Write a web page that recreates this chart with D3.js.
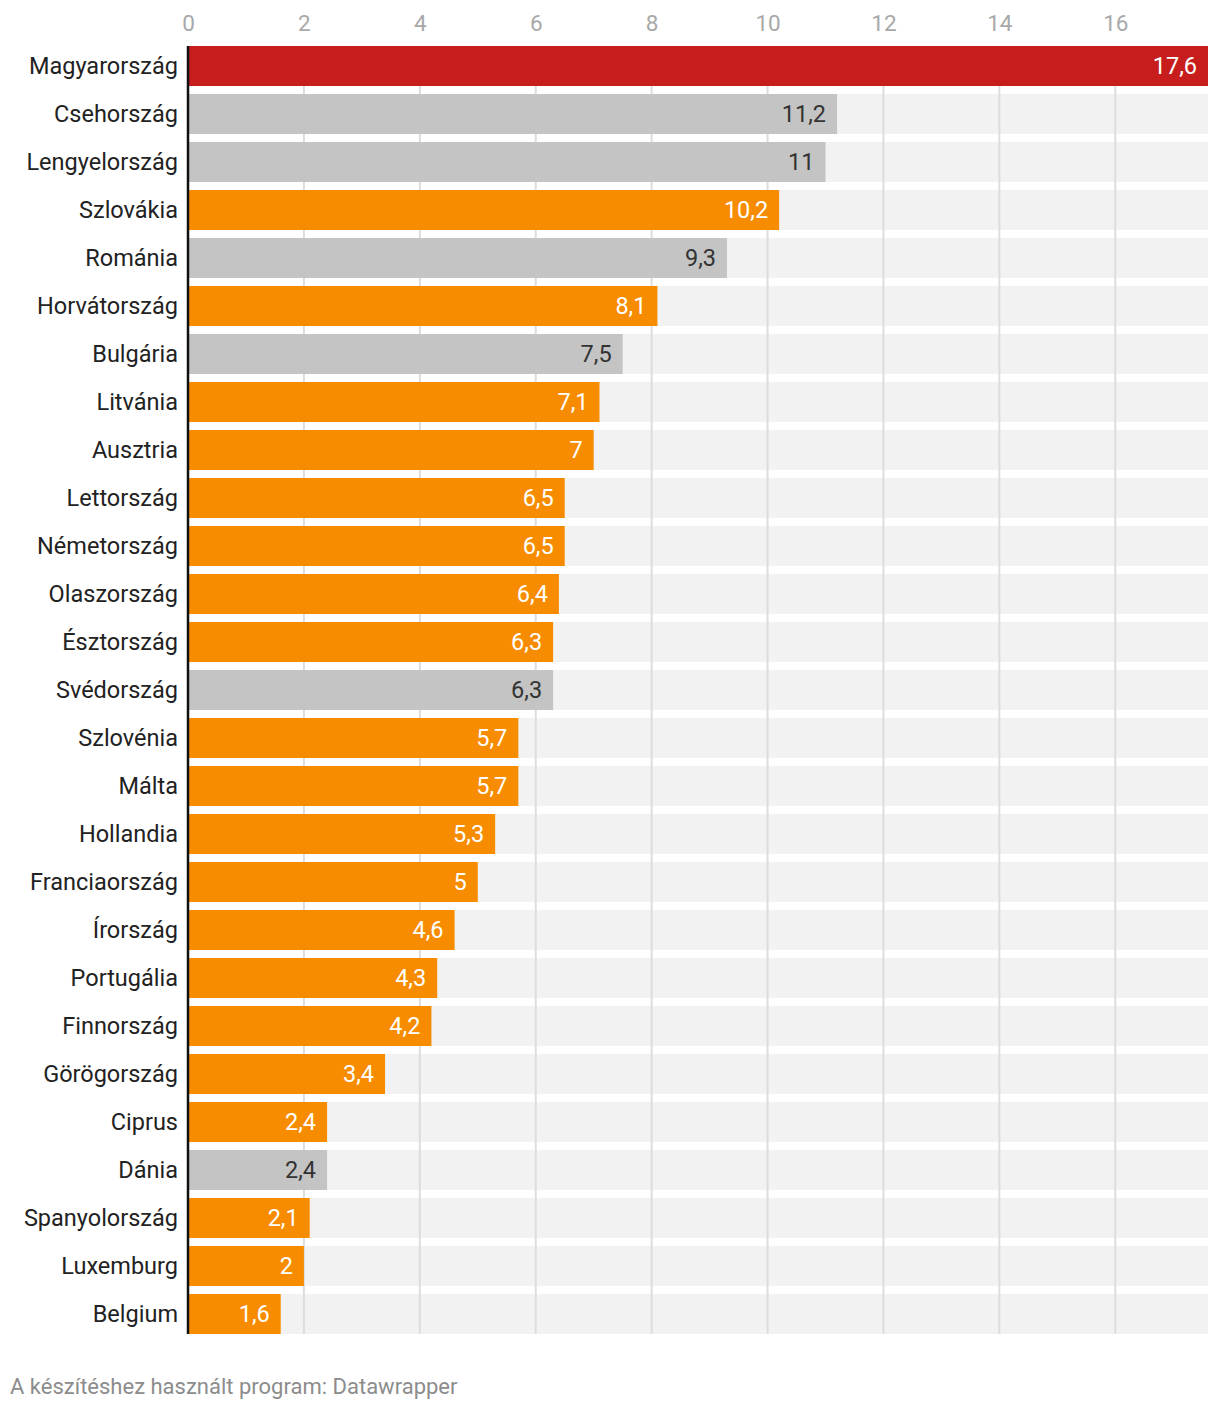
<!DOCTYPE html>
<html>
<head>
<meta charset="utf-8">
<script src="https://cdn.jsdelivr.net/npm/d3@7"></script>
<style>
  body { margin: 0; background: #fff; font-family: Roboto, "Noto Sans", sans-serif; }
  svg text { font-family: Roboto, "Noto Sans", sans-serif; }
</style>
</head>
<body>
<div id="chart"></div>
<script>
// data
const countries = ["Magyarország", "Csehország", "Lengyelország", "Szlovákia", "Románia",
    "Horvátország", "Bulgária", "Litvánia", "Ausztria", "Lettország", "Németország",
    "Olaszország", "Észtország", "Svédország", "Szlovénia", "Málta", "Hollandia",
    "Franciaország", "Írország", "Portugália", "Finnország", "Görögország", "Ciprus",
    "Dánia", "Spanyolország", "Luxemburg", "Belgium"];
const values = [17.6, 11.2, 11, 10.2, 9.3, 8.1, 7.5, 7.1, 7, 6.5, 6.5, 6.4, 6.3, 6.3,
    5.7, 5.7, 5.3, 5, 4.6, 4.3, 4.2, 3.4, 2.4, 2.4, 2.1, 2, 1.6];
// h = Hungary, e = euro area, o = other
const groups = ["h", "o", "o", "e", "o", "e", "o", "e", "e", "e", "e", "e", "e", "o",
    "e", "e", "e", "e", "e", "e", "e", "e", "e", "o", "e", "e", "e"];
const xTicks = [0, 2, 4, 6, 8, 10, 12, 14, 16];

const colors = {h: "#c71e1d", e: "#f78c00", o: "#c4c4c4"};
const labelColors = {h: "#ffffff", e: "#ffffff", o: "#333333"};

const width = 1220, height = 1410;
const margin = {top: 46, left: 188, right: 12};
const rowStep = 48, gap = 8;
const plotW = width - margin.left - margin.right;
const plotH = rowStep * countries.length - gap;

const data = countries.map((c, i) => ({name: c, value: values[i], group: groups[i]}));

const svg = d3.select("#chart").append("svg")
    .attr("width", width)
    .attr("height", height);

const x = d3.scaleLinear()
    .domain([0, d3.max(values)])
    .range([0, plotW]);

const y = d3.scaleBand()
    .domain(countries)
    .range([0, plotH])
    .paddingInner(gap / rowStep)
    .paddingOuter(0);

const plot = svg.append("g")
    .attr("transform", "translate(" + margin.left + "," + margin.top + ")");

// grey background rows
plot.selectAll("rect.bg")
    .data(data)
    .enter()
    .append("rect")
    .attr("class", "bg")
    .attr("x", 0)
    .attr("y", d => y(d.name))
    .attr("width", plotW)
    .attr("height", y.bandwidth())
    .attr("fill", "#f2f2f2");

// vertical grid
plot.selectAll("line.grid")
    .data(xTicks.filter(t => t > 0))
    .enter()
    .append("line")
    .attr("class", "grid")
    .attr("x1", d => x(d))
    .attr("x2", d => x(d))
    .attr("y1", 0)
    .attr("y2", plotH)
    .attr("stroke", "#dddddd")
    .attr("stroke-width", 2);

// top axis labels
const xAxis = svg.append("g")
    .attr("transform", "translate(" + margin.left + ",31)")
    .call(d3.axisTop(x).tickValues(xTicks).tickSize(0).tickPadding(0));
xAxis.select(".domain").remove();
xAxis.selectAll("text")
    .attr("dy", "0")
    .attr("font-size", 22.5)
    .attr("fill", "#a8a8a8");

// bars
plot.selectAll("rect.bar")
    .data(data)
    .enter()
    .append("rect")
    .attr("class", "bar")
    .attr("x", 0)
    .attr("y", d => y(d.name))
    .attr("width", d => x(d.value))
    .attr("height", y.bandwidth())
    .attr("fill", d => colors[d.group]);

// values inside bars
plot.selectAll("text.val")
    .data(data)
    .enter()
    .append("text")
    .attr("class", "val")
    .attr("x", d => x(d.value) - 11)
    .attr("y", d => y(d.name) + y.bandwidth() / 2)
    .attr("dy", "0.35em")
    .attr("text-anchor", "end")
    .attr("font-size", 23.5)
    .attr("fill", d => labelColors[d.group])
    .text(d => String(d.value).replace(".", ","));

// country labels
plot.selectAll("text.name")
    .data(data)
    .enter()
    .append("text")
    .attr("class", "name")
    .attr("x", -10)
    .attr("y", d => y(d.name) + y.bandwidth() / 2)
    .attr("dy", "0.35em")
    .attr("text-anchor", "end")
    .attr("font-size", 23.5)
    .attr("fill", "#222222")
    .text(d => d.name);

// baseline
plot.append("line")
    .attr("x1", 0).attr("x2", 0)
    .attr("y1", 0).attr("y2", plotH)
    .attr("stroke", "#111111")
    .attr("stroke-width", 2.5);

svg.append("text")
    .attr("x", 10)
    .attr("y", 1394)
    .attr("font-size", 22)
    .attr("fill", "#8c8c8c")
    .text("A készítéshez használt program: Datawrapper");
</script>
</body>
</html>
